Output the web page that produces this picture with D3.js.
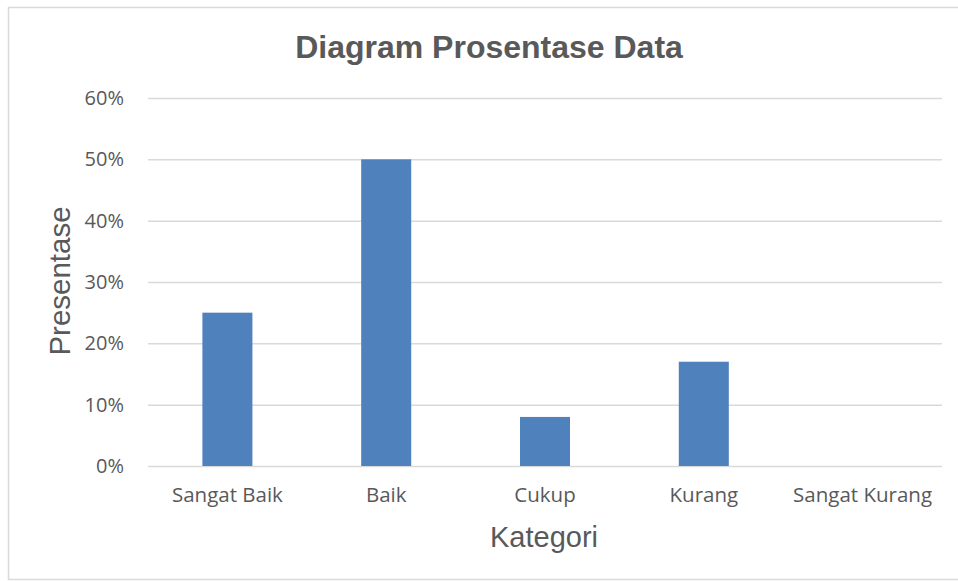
<!DOCTYPE html>
<html><head><meta charset="utf-8">
<script src="https://cdn.jsdelivr.net/npm/d3@7"></script>
<style>body{margin:0;background:#fff}svg{display:block}</style>
</head><body><svg id="c" width="958" height="581"></svg>
<script>
const categories = ["Sangat Baik","Baik","Cukup","Kurang","Sangat Kurang"];
const values = [0.25, 0.50, 0.08, 0.17, 0];
const yTicks = [0, 0.1, 0.2, 0.3, 0.4, 0.5, 0.6];
const title = "Diagram Prosentase Data";
const xTitle = "Kategori";
const yTitle = "Presentase";

const svg = d3.select("#c");
const textColor = "#595959";
svg.append("rect").attr("x",8.5).attr("y",7.5).attr("width",970).attr("height",572)
  .attr("fill","#fff").attr("stroke","#d9d9d9").attr("stroke-width",1.5);

const L = 148, R = 942, T = 98, B = 466;
const x = d3.scaleBand().domain(categories).range([L, R]).paddingInner(0.685).paddingOuter(0.3425);
const y = d3.scaleLinear().domain([0, 0.6]).range([B, T]);

const yAxis = svg.append("g").attr("transform",`translate(${L},0)`)
  .call(d3.axisLeft(y).tickValues(yTicks).tickFormat(d3.format(".0%")).tickSize(-(R-L)).tickPadding(24));
yAxis.select(".domain").remove();
yAxis.selectAll("line").attr("stroke","#d9d9d9").attr("stroke-width",1.5);
yAxis.selectAll("text").attr("fill",textColor).style("font-family","'Open Sans'").style("font-size","20px");

const xAxis = svg.append("g").attr("transform",`translate(0,${B})`)
  .call(d3.axisBottom(x).tickSize(0).tickPadding(21));
xAxis.select(".domain").remove();
xAxis.selectAll("text").attr("fill",textColor).style("font-family","'Open Sans'").style("font-size","20.5px");

svg.append("g").selectAll("rect").data(categories).join("rect")
  .attr("x", d => x(d)).attr("width", x.bandwidth())
  .attr("y", (d,i) => y(values[i])).attr("height", (d,i) => B - y(values[i]))
  .attr("fill","#4f81bd");

svg.append("text").attr("x",489).attr("y",58).attr("text-anchor","middle")
  .attr("fill",textColor).style("font-family","'Liberation Sans', Arial").style("font-weight","bold").style("font-size","32px")
  .text(title);
svg.append("text").attr("x",544).attr("y",547).attr("text-anchor","middle")
  .attr("fill",textColor).style("font-family","'Liberation Sans', Arial").style("font-size","29px")
  .text(xTitle);
svg.append("text").attr("transform","translate(70,281) rotate(-90)").attr("text-anchor","middle")
  .attr("fill",textColor).style("font-family","'Liberation Sans', Arial").style("font-size","29.5px")
  .text(yTitle);
</script></body></html>
